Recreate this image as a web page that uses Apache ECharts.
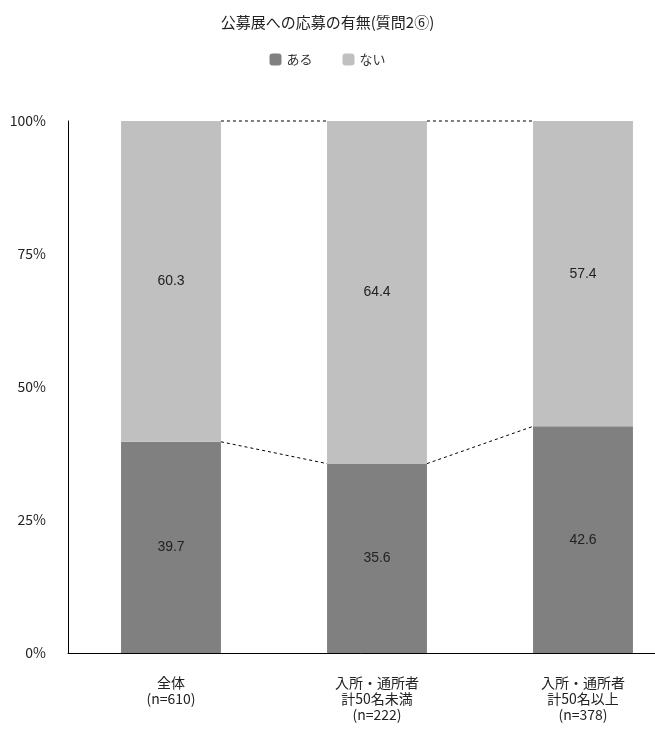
<!DOCTYPE html><html><head><meta charset="utf-8"><script src="https://cdn.jsdelivr.net/npm/echarts@6/dist/echarts.min.js"></script></head><body style="margin:0"><div id="c" style="width:655px;height:740px"></div><script>
const categories=['全体\n(n=610)','入所・通所者\n計50名未満\n(n=222)','入所・通所者\n計50名以上\n(n=378)'];
const aru=[39.7,35.6,42.6];
const nai=[60.3,64.4,57.4];
const yTicks=[0,25,50,75,100];
const font='"Noto Sans CJK JP", sans-serif';
const chart=echarts.init(document.getElementById('c'));
const BW=0.485;
chart.setOption({
 animation:false,
 title:{text:'公募展への応募の有無(質問2⑥)',left:'center',top:10,textStyle:{fontSize:15,fontWeight:'normal',color:'#222',fontFamily:font}},
 legend:{top:48,left:'center',itemWidth:12,itemHeight:12,itemGap:30,textStyle:{fontSize:13,color:'#333',fontFamily:font},data:['ある','ない']},
 grid:{left:68,top:121,right:-31,bottom:87,outerBoundsMode:'none',containLabel:false},
 xAxis:{type:'category',data:categories,axisLine:{lineStyle:{color:'#000'}},axisTick:{show:false},axisLabel:{fontSize:14,color:'#222',fontFamily:font,lineHeight:16,margin:22}},
 yAxis:{type:'value',min:0,max:100,interval:25,axisLine:{show:true,lineStyle:{color:'#000'}},axisTick:{show:false},splitLine:{show:false},axisLabel:{formatter:'{value}%',fontSize:14,color:'#222',fontFamily:font,margin:22}},
 series:[
  {name:'ある',type:'bar',stack:'a',data:aru,barWidth:'48.5%',itemStyle:{color:'#808080'},label:{show:true,position:'inside',fontSize:14,color:'#222',formatter:p=>p.value.toFixed(1)}},
  {name:'ない',type:'bar',stack:'a',data:nai,barWidth:'48.5%',itemStyle:{color:'#c0c0c0'},label:{show:true,position:'inside',fontSize:14,color:'#222',formatter:p=>p.value.toFixed(1)}},
  {type:'custom',silent:true,data:[0,1],renderItem:function(params,api){
    const i=api.value(0);const w=api.size([1,0])[0];const h=BW*w/2;
    const ch=[];
    [[aru[i],aru[i+1]],[100,100]].forEach(function(v){
      const p1=api.coord([i,v[0]]),p2=api.coord([i+1,v[1]]);
      ch.push({type:'line',shape:{x1:p1[0]+h,y1:p1[1],x2:p2[0]-h,y2:p2[1]},style:{stroke:'#000',lineDash:[3,3],lineWidth:1}});
    });
    return {type:'group',children:ch};
  }}
 ]
});
</script></body></html>
